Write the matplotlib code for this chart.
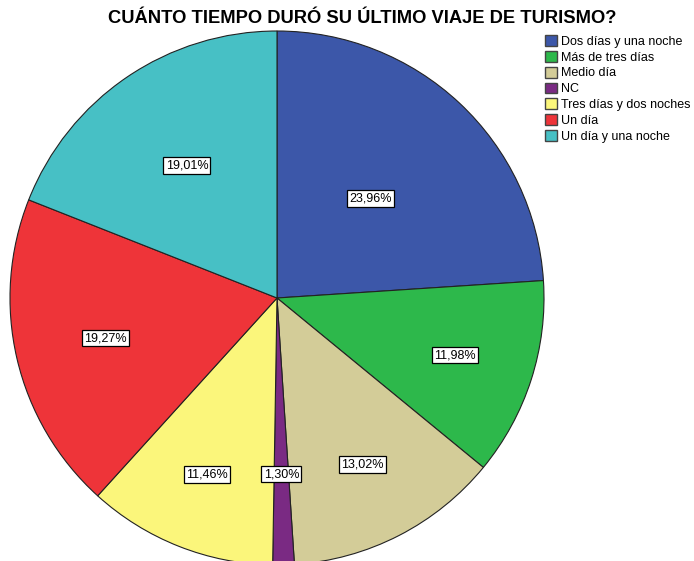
import matplotlib
matplotlib.use("Agg")
import matplotlib.pyplot as plt
import numpy as np

categories = ["Dos días y una noche", "Más de tres días", "Medio día", "NC",
              "Tres días y dos noches", "Un día", "Un día y una noche"]
values = [23.96, 11.98, 13.02, 1.30, 11.46, 19.27, 19.01]
pct_labels = ["23,96%", "11,98%", "13,02%", "1,30%", "11,46%", "19,27%", "19,01%"]
colors = ["#3c57a9", "#2db84b", "#d3cc98", "#7a2a83", "#fbf67b", "#ee3439", "#47c0c5"]
label_r = [0.51, 0.70, 0.70, 0.66, 0.71, 0.66, 0.60]

plt.rcParams['font.family'] = ['Liberation Sans', 'DejaVu Sans']
fig = plt.figure(figsize=(6.94, 5.61), dpi=100)
ax = fig.add_axes([10/694, (561-565)/561, 534/694, 534/561])
wedges, _ = ax.pie(values, colors=colors, startangle=90, counterclock=False,
                   wedgeprops=dict(edgecolor="#222222", linewidth=0.8), radius=1)
for w, lab, r in zip(wedges, pct_labels, label_r):
    ang = np.deg2rad((w.theta1 + w.theta2) / 2)
    ax.text(r*np.cos(ang), r*np.sin(ang), lab, ha="center", va="center", fontsize=9,
            bbox=dict(boxstyle="square,pad=0.18", facecolor="white", edgecolor="black", linewidth=0.9))
ax.set_xlim(-1.0, 1.0)
ax.set_ylim(-1.0, 1.0)
ax.set_aspect("equal")
ax.axis("off")

fig.text(362/694, 1-18.5/561, "CUÁNTO TIEMPO DURÓ SU ÚLTIMO VIAJE DE TURISMO?",
         ha="center", va="center", fontsize=13.2, fontweight="bold")

leg = fig.legend(wedges, categories, loc="upper left", bbox_to_anchor=(545/694, 1-35/561),
                 frameon=False, fontsize=9, handlelength=0.96, handleheight=0.96,
                 handletextpad=0.3, labelspacing=0.25, borderaxespad=0, borderpad=0)
for h in leg.legend_handles:
    h.set_edgecolor("#444444")
    h.set_linewidth(1.0)
fig.savefig("out.png", dpi=100, facecolor="white")
